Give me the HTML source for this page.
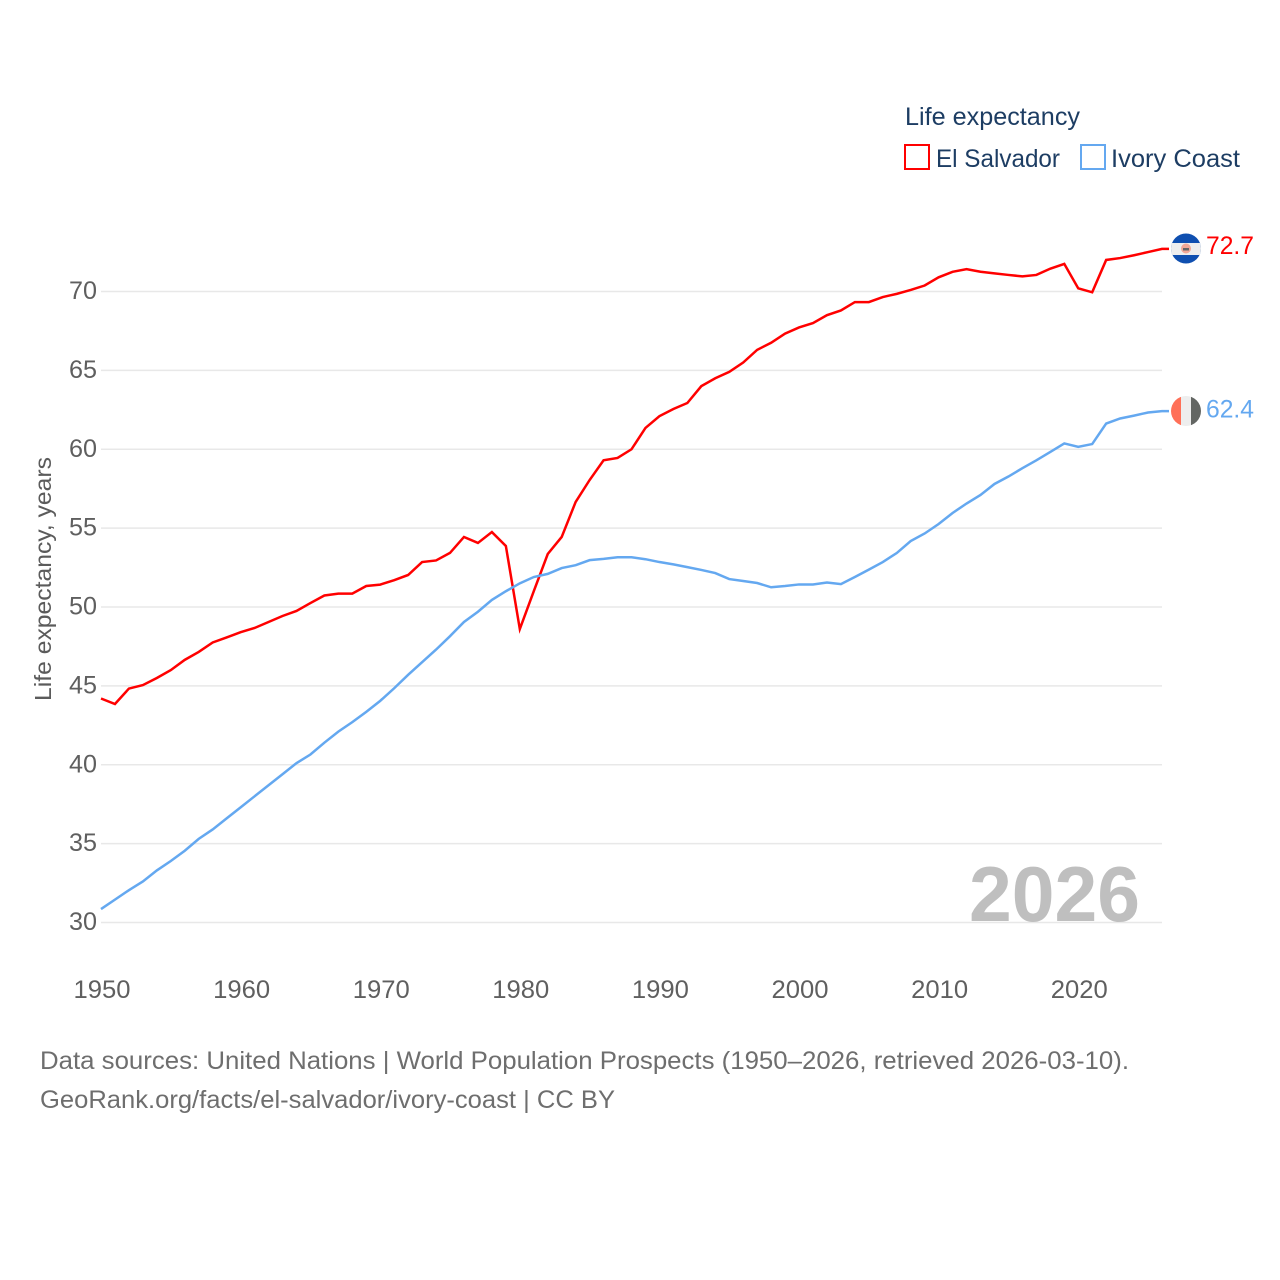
<!DOCTYPE html>
<html lang="en">
<head>
<meta charset="utf-8">
<title>Life expectancy: El Salvador and Ivory Coast</title>
<style>
html,body{margin:0;padding:0;background:#fff;}
svg{display:block;font-family:"Liberation Sans",sans-serif;}
</style>
</head>
<body>
<svg id="chart" xmlns="http://www.w3.org/2000/svg" width="1280" height="1280" viewBox="0 0 1280 1280">
  <defs>
    <clipPath id="flag-clip-sv"><circle cx="1186" cy="248.5" r="15"/></clipPath>
    <clipPath id="flag-clip-ci"><circle cx="1186" cy="411" r="15"/></clipPath>
  </defs>
  <rect width="1280" height="1280" fill="#ffffff"/>
  <g id="grid"></g>
  <g id="yticks"></g>
  <g id="xticks"></g>
  <text x="969" y="921" font-size="78" font-weight="bold" fill="#bfbfbf" textLength="171" lengthAdjust="spacingAndGlyphs">2026</text>
  <g id="series"></g>

  <text transform="translate(51,701) rotate(-90)" font-size="23" fill="#5b5b5b" textLength="244" lengthAdjust="spacingAndGlyphs">Life expectancy, years</text>

  <g>
    <text x="905" y="125" font-size="25" fill="#1d3d63" textLength="175" lengthAdjust="spacingAndGlyphs">Life expectancy</text>
    <rect x="905" y="145" width="24" height="24" fill="#ffffff" stroke="#ff0000" stroke-width="2"/>
    <text x="936" y="167" font-size="25" fill="#1d3d63" textLength="124" lengthAdjust="spacingAndGlyphs">El Salvador</text>
    <rect x="1081" y="145" width="24" height="24" fill="#ffffff" stroke="#64a8f0" stroke-width="2"/>
    <text x="1111" y="167" font-size="25" fill="#1d3d63" textLength="129" lengthAdjust="spacingAndGlyphs">Ivory Coast</text>
  </g>

  <g clip-path="url(#flag-clip-sv)">
    <rect x="1171" y="233" width="30" height="31" fill="#0f4fb0"/>
    <rect x="1171" y="243" width="30" height="12" fill="#eeeeee"/>
    <circle cx="1186" cy="248.5" r="5" fill="#f2a898"/>
    <rect x="1183" y="248" width="6" height="2.5" fill="#666666"/>
  </g>
  <g clip-path="url(#flag-clip-ci)">
    <rect x="1171" y="396" width="10" height="30" fill="#ff7058"/>
    <rect x="1181" y="396" width="10" height="30" fill="#eeeeee"/>
    <rect x="1191" y="396" width="10" height="30" fill="#636663"/>
  </g>

  <text id="value-sv" x="1206" y="254" font-size="25" fill="#ff0000" textLength="48" lengthAdjust="spacingAndGlyphs"></text>
  <text id="value-ci" x="1206" y="417.5" font-size="25" fill="#64a8f0" textLength="48" lengthAdjust="spacingAndGlyphs"></text>

  <text x="40" y="1069" font-size="25" fill="#6e6e6e" textLength="1089" lengthAdjust="spacingAndGlyphs">Data sources: United Nations | World Population Prospects (1950–2026, retrieved 2026-03-10).</text>
  <text x="40" y="1108" font-size="25" fill="#6e6e6e" textLength="575" lengthAdjust="spacingAndGlyphs">GeoRank.org/facts/el-salvador/ivory-coast | CC BY</text>
</svg>
<script>
const startYear = 1950;
const yTickValues = [30, 35, 40, 45, 50, 55, 60, 65, 70];
const xTickValues = [1950, 1960, 1970, 1980, 1990, 2000, 2010, 2020];
const elSalvador = [
  44.2,43.85,44.83,45.05,45.5,46.0,46.65,47.15,47.75,48.07,
  48.4,48.67,49.05,49.43,49.75,50.25,50.73,50.85,50.85,51.33,
  51.42,51.7,52.03,52.85,52.95,53.43,54.44,54.06,54.75,53.87,
  48.6,51.0,53.36,54.44,56.66,58.05,59.3,59.45,60.0,61.35,
  62.1,62.55,62.93,64.0,64.5,64.9,65.5,66.3,66.75,67.33,
  67.72,68.0,68.5,68.8,69.33,69.33,69.65,69.85,70.1,70.38,
  70.9,71.25,71.42,71.25,71.15,71.05,70.96,71.05,71.45,71.75,
  70.2,69.95,72.0,72.12,72.3,72.5,72.7
];
const ivoryCoast = [
  30.85,31.45,32.05,32.6,33.3,33.9,34.55,35.3,35.9,36.6,
  37.3,38.0,38.7,39.4,40.1,40.65,41.4,42.1,42.7,43.35,
  44.05,44.85,45.7,46.5,47.3,48.15,49.05,49.7,50.45,51.0,
  51.5,51.9,52.1,52.47,52.65,52.97,53.05,53.15,53.15,53.03,
  52.85,52.7,52.53,52.35,52.15,51.77,51.65,51.52,51.25,51.33,
  51.43,51.43,51.55,51.45,51.9,52.37,52.85,53.42,54.18,54.66,
  55.26,55.96,56.56,57.1,57.8,58.27,58.8,59.3,59.83,60.37,
  60.15,60.33,61.63,61.95,62.13,62.33,62.42
];

const SVG_NS = 'http://www.w3.org/2000/svg';
function xScale(year) { return 101 + (year - 1950) * (1162 - 101) / 76; }
function yScale(value) { return 922.5 - (value - 30) * (922.5 - 291.5) / 40; }

function make(tag, attrs, parent, text) {
  const el = document.createElementNS(SVG_NS, tag);
  Object.keys(attrs).forEach(function (k) { el.setAttribute(k, attrs[k]); });
  if (text !== undefined) el.textContent = text;
  parent.appendChild(el);
  return el;
}

const gridGroup = document.getElementById('grid');
const yGroup = document.getElementById('yticks');
const xGroup = document.getElementById('xticks');
const seriesGroup = document.getElementById('series');

yTickValues.forEach(function (v) {
  const line = make('line', {x1: 101, x2: 1162, y1: yScale(v), y2: yScale(v), stroke: '#e8e8e8', 'stroke-width': 1.5}, gridGroup);
  
  
  const label = make('text', {x: 97, y: yScale(v) + 7.5, 'text-anchor': 'end', 'font-size': 25, fill: '#5f5f5f', textLength: 28, lengthAdjust: 'spacingAndGlyphs'}, yGroup, String(v));
  
  
});

xTickValues.forEach(function (yr) {
  const label = make('text', {x: xScale(yr) + 1, y: 998, 'text-anchor': 'middle', 'font-size': 25, fill: '#5f5f5f', textLength: 57, lengthAdjust: 'spacingAndGlyphs'}, xGroup, String(yr));
  
  
});

function drawSeries(values, color) {
  const pts = values.map(function (v, i) {
    return xScale(startYear + i).toFixed(2) + ',' + yScale(v).toFixed(2);
  });
  const lastY = yScale(values[values.length - 1]).toFixed(2);
  pts.push('1169,' + lastY);
  return make('polyline', {points: pts.join(' '), fill: 'none', stroke: color, 'stroke-width': 2.5, 'stroke-linejoin': 'miter'}, seriesGroup);
}

const lineElSalvador = drawSeries(elSalvador, '#ff0000');


const lineIvoryCoast = drawSeries(ivoryCoast, '#64a8f0');



document.getElementById('value-sv').textContent = elSalvador[elSalvador.length - 1].toFixed(1);
document.getElementById('value-ci').textContent = ivoryCoast[ivoryCoast.length - 1].toFixed(1);
</script>
</body>
</html>
